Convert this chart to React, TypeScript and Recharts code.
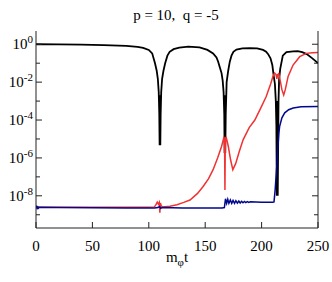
import React from "react";
import { LineChart, Line, XAxis, YAxis } from "recharts";

const FONT = "'Liberation Serif', 'Times New Roman', serif";

const xTicks = [0, 50, 100, 150, 200, 250];
const yTicks = [1e-9, 1e-8, 1e-7, 1e-6, 1e-5, 1e-4, 1e-3, 1e-2, 1e-1, 1];

const blackT = [0, 20, 40, 60, 80, 90, 95, 100, 103, 105.5, 107, 108, 108.8, 109.3, 109.6, 109.9, 110.2, 110.5, 111, 111.8, 113, 114.5, 116.5, 118.5, 122, 127, 135, 145, 152, 157, 160, 161.5, 163, 164.5, 165.5, 166.3, 166.9, 167.2, 167.5, 167.8, 168.2, 169, 170.4, 171.8, 173.3, 175, 177.7, 183, 189.6, 196, 201.3, 204, 205.8, 207.9, 209.5, 210.8, 211.8, 212.6, 213.1, 213.5, 213.9, 214.3, 215, 215.5, 216.5, 218.8, 222, 228, 232, 236, 240, 245, 250];
const blackV = [1.0, 0.98, 0.95, 0.9, 0.82, 0.72, 0.65, 0.5, 0.33, 0.1, 0.04, 0.015, 3e-3, 2e-4, 4.6e-6, 2e-3, 4.6e-6, 2e-4, 3e-3, 0.015, 0.04, 0.1, 0.25, 0.4, 0.55, 0.67, 0.75, 0.68, 0.5, 0.33, 0.2, 0.12, 0.06, 0.03, 0.012, 3e-3, 2e-4, 1.8e-6, 2e-3, 1.8e-6, 2e-4, 0.01, 0.04, 0.12, 0.25, 0.4, 0.52, 0.6, 0.62, 0.6, 0.5, 0.4, 0.3, 0.18, 0.08, 0.02, 8e-3, 1e-3, 5e-5, 1e-8, 1e-3, 1e-8, 1e-3, 0.013, 0.05, 0.25, 0.38, 0.42, 0.43, 0.38, 0.3, 0.18, 0.1];

const redT = [0, 50, 100, 105, 106.5, 107.5, 108.5, 109.3, 109.8, 110.3, 111, 112, 118.8, 125, 131, 136.5, 143, 148, 153, 157, 161, 164.5, 166, 166.7, 167.2, 167.5, 167.8, 168.4, 169.2, 170.5, 172.5, 174.5, 177, 180, 183.6, 189, 194, 199, 204, 208, 210, 211.5, 212.8, 213.5, 214.2, 215.2, 216.5, 218, 219.6, 221, 223.5, 227.9, 233.8, 239.7, 245, 250];
const redV = [2.5e-9, 2.5e-9, 2.5e-9, 2.6e-9, 3.5e-9, 4.6e-9, 3.6e-9, 4.5e-9, 1.3e-9, 4.2e-9, 3e-9, 2.6e-9, 2.8e-9, 3.4e-9, 4.5e-9, 6e-9, 1.3e-8, 3e-8, 8e-8, 2.4e-7, 1e-6, 4e-6, 9e-6, 1.3e-5, 5e-6, 2e-8, 6e-6, 1.3e-5, 9e-6, 4e-6, 8e-7, 2.4e-7, 5e-7, 2e-6, 9e-6, 4e-5, 1e-4, 4e-4, 1.7e-3, 8e-3, 0.02, 0.03, 0.025, 0.015, 0.025, 0.028, 0.012, 4e-3, 2.1e-3, 4e-3, 0.02, 0.08, 0.22, 0.33, 0.36, 0.37];

const blueT = [0, 0.5, 1, 1.5, 2, 3, 20, 50, 80, 105, 108, 109.5, 110.5, 112, 130, 150, 165, 167, 168, 169, 170, 171, 172.3, 173.5, 174.7, 176, 177.2, 178.5, 179.8, 181, 182.3, 183.5, 184.8, 186, 187.3, 188.6, 190, 200, 210, 211, 212, 213, 213.7, 214.5, 215.3, 216, 218, 220.5, 224, 228, 235, 250];
const blueV = [2.4e-9, 3.0e-9, 2.0e-9, 2.8e-9, 2.2e-9, 2.5e-9, 2.4e-9, 2.35e-9, 2.3e-9, 2.3e-9, 2.4e-9, 2.7e-9, 2.2e-9, 2.4e-9, 2.3e-9, 2.3e-9, 2.3e-9, 2.4e-9, 7e-9, 4e-9, 6.5e-9, 4e-9, 6e-9, 4e-9, 5.7e-9, 4e-9, 5.5e-9, 4.1e-9, 5.3e-9, 4.2e-9, 5.1e-9, 4.3e-9, 5e-9, 4.4e-9, 4.9e-9, 4.5e-9, 4.8e-9, 4.6e-9, 4.6e-9, 4.8e-9, 2e-8, 1.5e-7, 6e-7, 4e-6, 2e-5, 4.6e-5, 1.3e-4, 2.4e-4, 3.5e-4, 4.3e-4, 5e-4, 5.2e-4];

const toData = (ts: number[], vs: number[]) => ts.map((t, i) => ({ t, v: vs[i] }));
const blackData = toData(blackT, blackV);
const redData = toData(redT, redV);
const blueData = toData(blueT, blueV);

const expOf = (v: number) => Math.round(Math.log10(v));

const YTickLeft = (props: any) => {
  const { x, y, payload } = props;
  const e = expOf(payload.value);
  const major = e % 2 === 0;
  return (
    <g>
      <line x1={x} x2={x + (major ? 6 : 4)} y1={y} y2={y} stroke="#222" strokeWidth={1} />
      {major && (
        <text x={x - 3} y={y + 5} textAnchor="end" fontFamily={FONT} fontSize={15} fill="#000">
          10
          <tspan dy={-6} fontSize={11}>
            {String(e)}
          </tspan>
        </text>
      )}
    </g>
  );
};

const YTickRight = (props: any) => {
  const { x, y, payload } = props;
  const e = expOf(payload.value);
  const major = e % 2 === 0;
  return <line x1={x} x2={x - (major ? 6 : 4)} y1={y} y2={y} stroke="#222" strokeWidth={1} />;
};

const XTickBottom = (props: any) => {
  const { x, y, payload } = props;
  return (
    <g>
      <line x1={x} x2={x} y1={y} y2={y - 6} stroke="#222" strokeWidth={1} />
      <text x={x} y={y + 23} textAnchor="middle" fontFamily={FONT} fontSize={15} fill="#000">
        {payload.value}
      </text>
    </g>
  );
};

const XTickTop = (props: any) => {
  const { x, y } = props;
  return <line x1={x} x2={x} y1={y} y2={y + 6} stroke="#222" strokeWidth={1} />;
};

export default function App() {
  return (
    <div style={{ position: "absolute", left: 0, top: 0, width: 332, height: 282, background: "#fff" }}>
      <div
        style={{
          position: "absolute",
          left: 76,
          top: 8,
          width: 200,
          textAlign: "center",
          fontFamily: FONT,
          fontSize: 15,
          lineHeight: "15px",
          whiteSpace: "pre",
        }}
      >
        {"p = 10,  q = -5"}
      </div>
      <LineChart width={332} height={282} margin={{ top: 31, right: 0, bottom: 24, left: 0 }}>
        <XAxis
          xAxisId="b"
          dataKey="t"
          type="number"
          domain={[0, 250]}
          ticks={xTicks}
          allowDataOverflow
          height={30}
          tickSize={0}
          tickMargin={0}
          tickLine={false}
          axisLine={{ stroke: "#222" }}
          tick={<XTickBottom />}
          interval={0}
        />
        <XAxis
          xAxisId="t"
          orientation="top"
          type="number"
          domain={[0, 250]}
          ticks={xTicks}
          allowDataOverflow
          height={0}
          tickSize={0}
          tickMargin={0}
          tickLine={false}
          axisLine={{ stroke: "#222" }}
          tick={<XTickTop />}
          interval={0}
        />
        <YAxis
          yAxisId="l"
          type="number"
          scale="log"
          domain={[2e-10, 5]}
          ticks={yTicks}
          allowDataOverflow
          width={36}
          tickSize={0}
          tickMargin={0}
          tickLine={false}
          axisLine={{ stroke: "#222" }}
          tick={<YTickLeft />}
          interval={0}
        />
        <YAxis
          yAxisId="r"
          orientation="right"
          type="number"
          scale="log"
          domain={[2e-10, 5]}
          ticks={yTicks}
          allowDataOverflow
          width={14}
          tickSize={0}
          tickMargin={0}
          tickLine={false}
          axisLine={{ stroke: "#222" }}
          tick={<YTickRight />}
          interval={0}
        />
        <Line
          xAxisId="b"
          yAxisId="l"
          data={blackData}
          dataKey="v"
          stroke="#000000"
          strokeWidth={1.8}
          dot={false}
          isAnimationActive={false}
          type="linear"
        />
        <Line
          xAxisId="b"
          yAxisId="l"
          data={redData}
          dataKey="v"
          stroke="#f03232"
          strokeWidth={1.5}
          dot={false}
          isAnimationActive={false}
          type="linear"
        />
        <Line
          xAxisId="b"
          yAxisId="l"
          data={blueData}
          dataKey="v"
          stroke="#00088c"
          strokeWidth={1.5}
          dot={false}
          isAnimationActive={false}
          type="linear"
        />
      </LineChart>
      <div
        style={{
          position: "absolute",
          left: 77,
          top: 250,
          width: 200,
          textAlign: "center",
          fontFamily: FONT,
          fontSize: 15,
          lineHeight: "15px",
        }}
      >
        m<span style={{ fontSize: 11, position: "relative", top: 4 }}>φ</span>t
      </div>
    </div>
  );
}
